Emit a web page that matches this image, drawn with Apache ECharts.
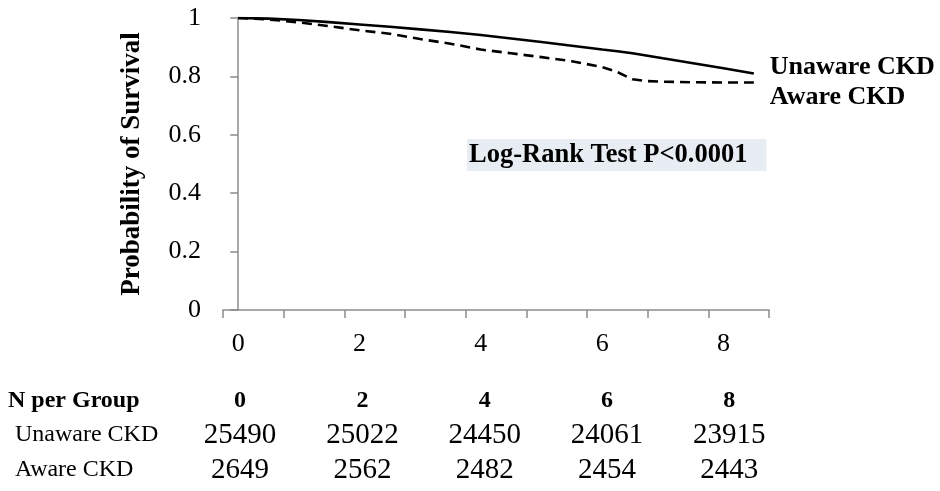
<!DOCTYPE html>
<html>
<head>
<meta charset="utf-8">
<script src="https://cdn.jsdelivr.net/npm/echarts@6/dist/echarts.min.js"></script>
<style>html,body{margin:0;padding:0;background:#fff;}#c{width:940px;height:491px;}</style>
</head>
<body>
<div id="c"></div>
<script>
// ---- data ----
var timeYears = [0, 0.5, 1, 1.5, 2, 2.5, 3, 3.5, 4, 4.5, 5, 5.5, 6, 6.25, 6.5, 6.75, 7, 7.5, 8, 8.5];
var unawareSurv = [1.0, 0.998, 0.993, 0.986, 0.978, 0.970, 0.961, 0.952, 0.942, 0.930, 0.918, 0.905, 0.892, 0.886, 0.879, 0.871, 0.862, 0.845, 0.828, 0.810];
var awareSurv = [1.0, 0.995, 0.985, 0.972, 0.958, 0.946, 0.928, 0.912, 0.892, 0.879, 0.866, 0.852, 0.832, 0.815, 0.790, 0.784, 0.782, 0.780, 0.779, 0.779];
var seriesNames = ['Unaware CKD', 'Aware CKD'];
var xTickLabels = [0, 2, 4, 6, 8];
var xMinorTicks = [-0.25, 0.75, 1.75, 2.75, 3.75, 4.75, 5.75, 6.75, 7.75, 8.75];
var tableTimes = [0, 2, 4, 6, 8];
var unawareN = [25490, 25022, 24450, 24061, 23915];
var awareN = [2649, 2562, 2482, 2454, 2443];
var tableHeader = 'N per Group';
var pValueText = 'Log-Rank Test P<0.0001';
var yAxisTitle = 'Probability of Survival';

var SERIF = "'Liberation Serif', 'Times New Roman', serif";
var AXIS_COLOR = '#8c8c8c';

function pairs(xs, ys) { return xs.map(function (x, i) { return [x, ys[i]]; }); }

function tableAxis(offset, fmt, size, weight) {
  return {
    type: 'value', gridIndex: 0, position: 'bottom', offset: offset,
    min: -0.28, max: 8.65,
    axisLine: { show: false }, axisTick: { show: false }, splitLine: { show: false },
    axisLabel: {
      customValues: tableTimes, margin: 0, verticalAlign: 'middle',
      fontFamily: SERIF, fontSize: size, fontWeight: weight, color: '#000',
      formatter: fmt
    }
  };
}

var chart = echarts.init(document.getElementById('c'), null, { renderer: 'canvas' });
chart.setOption({
  backgroundColor: '#fff',
  animation: false,
  grid: { left: 223, right: 171, top: 18, bottom: 181, containLabel: false },
  xAxis: [
    {
      type: 'value', min: -0.25, max: 8.75,
      axisLine: { show: true, lineStyle: { color: AXIS_COLOR, width: 1.5 } },
      axisTick: { show: true, customValues: xMinorTicks, length: 8, lineStyle: { color: AXIS_COLOR, width: 1.5 } },
      splitLine: { show: false },
      axisLabel: { customValues: xTickLabels, margin: 21, fontFamily: SERIF, fontSize: 26, color: '#000' }
    },
    tableAxis(91, function (v) { return String(v); }, 24, 'bold'),
    tableAxis(125, function (v) { return String(unawareN[tableTimes.indexOf(v)]); }, 29, 'normal'),
    tableAxis(160, function (v) { return String(awareN[tableTimes.indexOf(v)]); }, 29, 'normal')
  ],
  yAxis: {
    type: 'value', min: 0, max: 1, interval: 0.2,
    name: yAxisTitle, nameLocation: 'middle', nameRotate: 90, nameGap: 77,
    nameTextStyle: { fontFamily: SERIF, fontSize: 27, fontWeight: 'bold', color: '#000' },
    axisLine: { show: true, lineStyle: { color: AXIS_COLOR, width: 1.5 } },
    axisTick: { show: true, length: 8, lineStyle: { color: AXIS_COLOR, width: 1.5 } },
    splitLine: { show: false },
    axisLabel: { margin: 22, fontFamily: SERIF, fontSize: 26, color: '#000' }
  },
  series: [
    {
      name: seriesNames[0], type: 'line', xAxisIndex: 0, data: pairs(timeYears, unawareSurv),
      showSymbol: false, symbol: 'none',
      lineStyle: { color: '#000', width: 2.6, type: 'solid' },
      endLabel: { show: true, formatter: '{a}', distance: 16, offset: [0, -6],
        fontFamily: SERIF, fontSize: 26, fontWeight: 'bold', color: '#000' }
    },
    {
      name: seriesNames[1], type: 'line', xAxisIndex: 0, data: pairs(timeYears, awareSurv),
      showSymbol: false, symbol: 'none',
      lineStyle: { color: '#000', width: 2.6, type: [10, 6] },
      endLabel: { show: true, formatter: '{a}', distance: 16, offset: [0, 15],
        fontFamily: SERIF, fontSize: 26, fontWeight: 'bold', color: '#000' }
    }
  ],
  graphic: [
    { type: 'text', left: 467, top: 139, style: {
        text: pValueText, font: 'bold 26.5px ' + SERIF, fill: '#000',
        backgroundColor: '#E8ECF3', padding: [3, 19, 3, 2], lineHeight: 26 } },
    { type: 'text', left: 8, top: 401 - 13, style: { text: tableHeader, font: 'bold 24px ' + SERIF, fill: '#000', lineHeight: 26 } },
    { type: 'text', left: 15, top: 435 - 13, style: { text: seriesNames[0], font: '24px ' + SERIF, fill: '#000', lineHeight: 26 } },
    { type: 'text', left: 15, top: 470 - 13, style: { text: seriesNames[1], font: '24px ' + SERIF, fill: '#000', lineHeight: 26 } }
  ]
});
</script>
</body>
</html>
